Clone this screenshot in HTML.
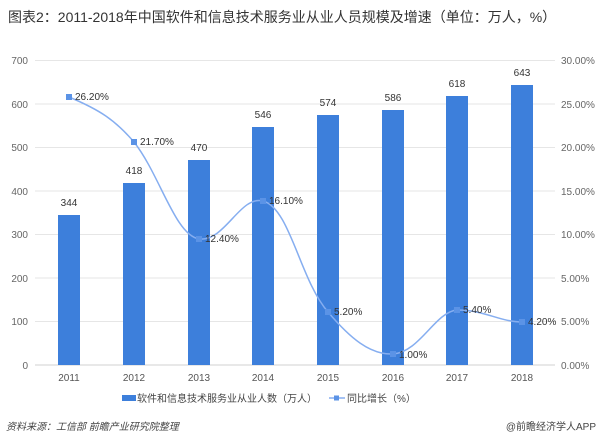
<!DOCTYPE html><html><head><meta charset="utf-8"><style>body{margin:0;background:#fff}svg{display:block}text{font-family:"Liberation Sans","Noto Sans CJK SC",sans-serif}</style></head><body>
<svg width="600" height="446" xmlns="http://www.w3.org/2000/svg">
<text x="8" y="22" font-size="14" fill="#333">图表2：2011-2018年中国软件和信息技术服务业从业人员规模及增速（单位：万人，%）</text>
<g stroke="#e6e6e6" stroke-width="1">
<line x1="35" y1="60.5" x2="555" y2="60.5"/><line x1="35" y1="104" x2="555" y2="104"/><line x1="35" y1="147.5" x2="555" y2="147.5"/><line x1="35" y1="191" x2="555" y2="191"/><line x1="35" y1="234.5" x2="555" y2="234.5"/><line x1="35" y1="278" x2="555" y2="278"/><line x1="35" y1="321.5" x2="555" y2="321.5"/><line x1="35" y1="365" x2="555" y2="365" stroke="#d0d0d0"/>
</g>
<g font-size="10" fill="#666" text-anchor="end">
<text x="28" y="64">700</text><text x="28" y="108">600</text><text x="28" y="151">500</text><text x="28" y="195">400</text><text x="28" y="238">300</text><text x="28" y="282">200</text><text x="28" y="325">100</text><text x="28" y="369">0</text>
</g>
<g font-size="10" fill="#666" text-anchor="start">
<text x="561" y="64">30.00%</text><text x="561" y="108">25.00%</text><text x="561" y="151">20.00%</text><text x="561" y="195">15.00%</text><text x="561" y="238">10.00%</text><text x="561" y="282">5.00%</text><text x="561" y="325">5.00%</text><text x="561" y="369">0.00%</text>
</g>
<g fill="#3d7fdb">
<rect x="58" y="215" width="22" height="150"/><rect x="123" y="183" width="22" height="182"/><rect x="188" y="160" width="22" height="205"/><rect x="252" y="127" width="22" height="238"/><rect x="317" y="115" width="22" height="250"/><rect x="382" y="110" width="22" height="255"/><rect x="446" y="96" width="22" height="269"/><rect x="511" y="85" width="22" height="280"/>
</g>
<g font-size="10" fill="#333" text-anchor="middle">
<text x="69" y="206">344</text><text x="134" y="174">418</text><text x="199" y="151">470</text><text x="263" y="118">546</text><text x="328" y="106">574</text><text x="393" y="101">586</text><text x="457" y="87">618</text><text x="522" y="76">643</text>
</g>
<path d="M69,97 C100,110 115,120 134,142 C160,175 175,235 199,239 C225,242 240,195 263,201 C290,208 300,280 328,312 C350,338 370,355 393,354 C420,352 435,312 457,310 C485,310 500,322 522,322" fill="none" stroke="#86aef0" stroke-width="1.5"/>
<g fill="#5b93e6">
<rect x="66" y="94" width="6" height="6"/><rect x="131" y="139" width="6" height="6"/><rect x="196" y="236" width="6" height="6"/><rect x="260" y="198" width="6" height="6"/><rect x="325" y="309" width="6" height="6"/><rect x="390" y="351" width="6" height="6"/><rect x="454" y="307" width="6" height="6"/><rect x="519" y="319" width="6" height="6"/>
</g>
<g font-size="10" fill="#333">
<text x="75" y="100">26.20%</text><text x="140" y="145">21.70%</text><text x="205" y="242">12.40%</text><text x="269" y="204">16.10%</text><text x="334" y="315">5.20%</text><text x="399" y="358">1.00%</text><text x="463" y="313">5.40%</text><text x="528" y="325">4.20%</text>
</g>
<g font-size="10" fill="#555" text-anchor="middle">
<text x="69" y="381">2011</text><text x="134" y="381">2012</text><text x="199" y="381">2013</text><text x="263" y="381">2014</text><text x="328" y="381">2015</text><text x="393" y="381">2016</text><text x="457" y="381">2017</text><text x="522" y="381">2018</text>
</g>
<rect x="122" y="395" width="14" height="6" fill="#3d7fdb"/>
<text x="137" y="402" font-size="10" fill="#444">软件和信息技术服务业从业人数（万人）</text>
<line x1="329" y1="398" x2="345" y2="398" stroke="#86aef0" stroke-width="1.5"/><rect x="334" y="395.5" width="5" height="5" fill="#5b93e6"/>
<text x="347" y="402" font-size="10" fill="#444">同比增长（%）</text>
<text x="6" y="430" font-size="10" fill="#444" font-style="italic">资料来源：工信部 前瞻产业研究院整理</text>
<text x="596" y="430" font-size="10" fill="#444" text-anchor="end">@前瞻经济学人APP</text>
</svg></body></html>
